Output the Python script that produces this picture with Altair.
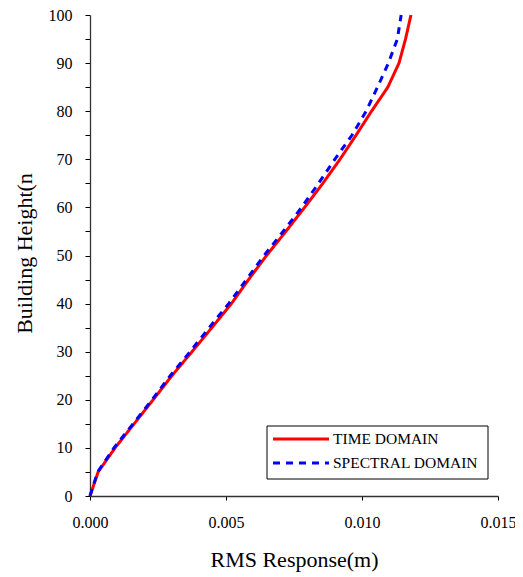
import altair as alt
import pandas as pd

heights = [0, 5, 10, 15, 20, 25, 30, 35, 40, 45, 50, 55, 60, 65, 70, 75, 80, 85, 90, 95, 100]
time_domain = [0.0, 0.30, 0.92, 1.62, 2.32, 3.01, 3.75, 4.48, 5.20, 5.83, 6.49, 7.20, 7.89, 8.56,
               9.19, 9.78, 10.35, 10.95, 11.36, 11.60, 11.80]
spectral_domain = [0.0, 0.28, 0.88, 1.58, 2.28, 2.95, 3.68, 4.38, 5.10, 5.75, 6.40, 7.10, 7.78, 8.40,
                   9.00, 9.63, 10.15, 10.57, 10.97, 11.30, 11.44]
series_names = ["TIME DOMAIN", "SPECTRAL DOMAIN"]
series_colors = ["#ff0000", "#0000ff"]
series_dash = [[1, 0], [7, 6]]

rows = []
for name, vals in zip(series_names, [time_domain, spectral_domain]):
    for i, (h, v) in enumerate(zip(heights, vals)):
        rows.append({"series": name, "height": h, "rms": v / 1000.0, "order": i})
df = pd.DataFrame(rows)

FONT = "'Liberation Serif', 'Times New Roman', serif"

lines = alt.Chart(df).mark_line(strokeWidth=3).encode(
    x=alt.X("rms:Q",
            scale=alt.Scale(domain=[0, 0.015], nice=False),
            axis=alt.Axis(values=[0, 0.005, 0.010, 0.015], format=".3f",
                          title="RMS Response(m)", grid=False, labelFlush=False,
                          labelOverlap=False,
                          tickSize=4, labelPadding=14, titleY=70,
                          titleBaseline="alphabetic")),
    y=alt.Y("height:Q",
            scale=alt.Scale(domain=[0, 100], nice=False),
            axis=alt.Axis(values=list(range(0, 101, 5)),
                          labelExpr="datum.value % 10 == 0 ? datum.label : ''",
                          title="Building Height(n", grid=False, labelFlush=False,
                          labelOverlap=False,
                          tickSize=5, labelPadding=13,
                          titleAngle=270, titleX=-59, titleY=238,
                          titleAlign="center", titleBaseline="alphabetic")),
    color=alt.Color("series:N",
                    scale=alt.Scale(domain=series_names, range=series_colors),
                    legend=None),
    strokeDash=alt.StrokeDash("series:N",
                              scale=alt.Scale(domain=series_names, range=series_dash),
                              legend=None),
    order="order:Q",
    detail="series:N",
)

# Hand-built legend box (inside plot, lower right)
box = alt.Chart(pd.DataFrame({"k": [0]})).mark_rect(
    fill="white", stroke="black", strokeWidth=1
).encode(x=alt.value(177), x2=alt.value(398), y=alt.value(411), y2=alt.value(464))

legend_layers = [box]
row_y = [424, 448]
for name, col, dash, yy in zip(series_names, series_colors, series_dash, row_y):
    ldf = pd.DataFrame({"label": [name]})
    legend_layers.append(
        alt.Chart(ldf).mark_rule(color=col, strokeWidth=3, strokeDash=dash).encode(
            x=alt.value(183), x2=alt.value(239), y=alt.value(yy))
    )
    legend_layers.append(
        alt.Chart(ldf).mark_text(font=FONT, fontSize=15.5, color="black", align="left",
                                 baseline="middle").encode(
            x=alt.value(243), y=alt.value(yy), text="label:N")
    )

chart = alt.layer(lines, *legend_layers).properties(
    width=408, height=481,
    autosize=alt.AutoSizeParams(type="none"),
    padding={"left": 82, "top": 7, "right": 17, "bottom": 76},
).configure_axis(
    labelFont=FONT, titleFont=FONT, labelFontSize=16, titleFontSize=22,
    labelColor="black", titleColor="black", titleFontWeight="normal",
    domainColor="#333", tickColor="black", domainWidth=1.3,
).configure_view(stroke=None)

chart.save("out.html", embed_options={"renderer": "svg", "actions": False})
